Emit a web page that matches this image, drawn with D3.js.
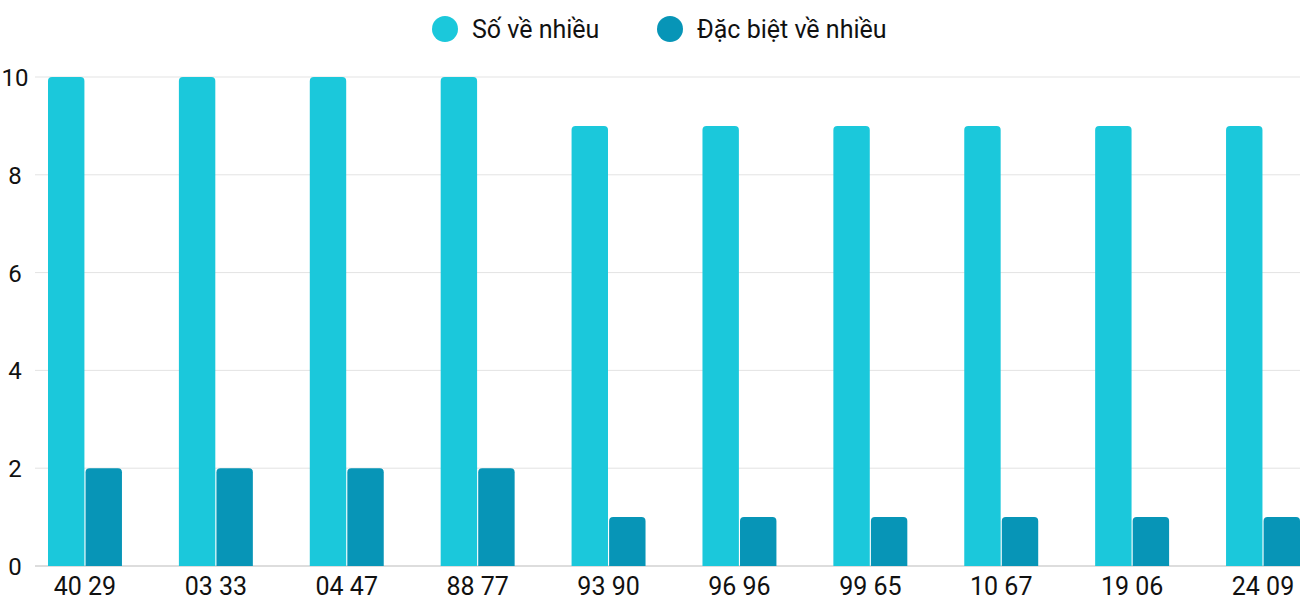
<!DOCTYPE html>
<html><head><meta charset="utf-8">
<script src="https://cdn.jsdelivr.net/npm/d3@7"></script>
<style>body{margin:0;background:#fff}svg{font-family:Roboto,sans-serif}</style>
</head><body><svg id="c" width="1300" height="600"></svg>
<script>
const categories = ["40 29","03 33","04 47","88 77","93 90","96 96","99 65","10 67","19 06","24 09"]
const soVeNhieu = [10,10,10,10,9,9,9,9,9,9]
const dacBiet = [2,2,2,2,1,1,1,1,1,1]
const seriesNames = ["Số về nhiều","Đặc biệt về nhiều"]
const colors = ["#1bc8db","#0795b7"]

const svg = d3.select("#c")
const y = d3.scaleLinear().domain([0,10]).range([566,77])
const x = d3.scaleBand().domain(categories).range([48,1300]).paddingInner(0.435).paddingOuter(0)
const sub = d3.scaleBand().domain([0,1]).range([0,x.bandwidth()]).paddingInner(0.03)

// grid
svg.append("g").selectAll("line").data(d3.range(0,11,2)).join("line")
  .attr("x1",35).attr("x2",1300).attr("y1",d=>y(d)).attr("y2",d=>y(d))
  .attr("stroke",d=>d===0?"#bbb":"#e3e3e3").attr("stroke-width",1)
svg.append("g").selectAll("text").data(d3.range(0,11,2)).join("text")
  .attr("x",15).attr("y",d=>y(d)+9).attr("text-anchor","middle")
  .attr("font-size",24).attr("fill","#111").text(d=>d)

// bars with rounded top
function barPath(x0,w,v){
  const top=y(v), bot=y(0), r=4
  return `M${x0},${bot}V${top+r}Q${x0},${top} ${x0+r},${top}H${x0+w-r}Q${x0+w},${top} ${x0+w},${top+r}V${bot}Z`
}
;[soVeNhieu,dacBiet].forEach((vals,si)=>{
  svg.append("g").selectAll("path").data(categories).join("path")
    .attr("d",(c,i)=>barPath(x(c)+sub(si),sub.bandwidth(),vals[i]))
    .attr("fill",colors[si])
})

svg.append("g").selectAll("text").data(categories).join("text")
  .attr("x",c=>x(c)+x.bandwidth()/2).attr("y",595).attr("text-anchor","middle")
  .attr("font-size",25).attr("fill","#111").text(c=>c)

// legend
const lx=[445,670]
seriesNames.forEach((n,i)=>{
  svg.append("circle").attr("cx",lx[i]).attr("cy",29).attr("r",13).attr("fill",colors[i])
  svg.append("text").attr("x",lx[i]+27).attr("y",38).attr("font-size",25).attr("fill","#111").text(n)
})
</script></body></html>
